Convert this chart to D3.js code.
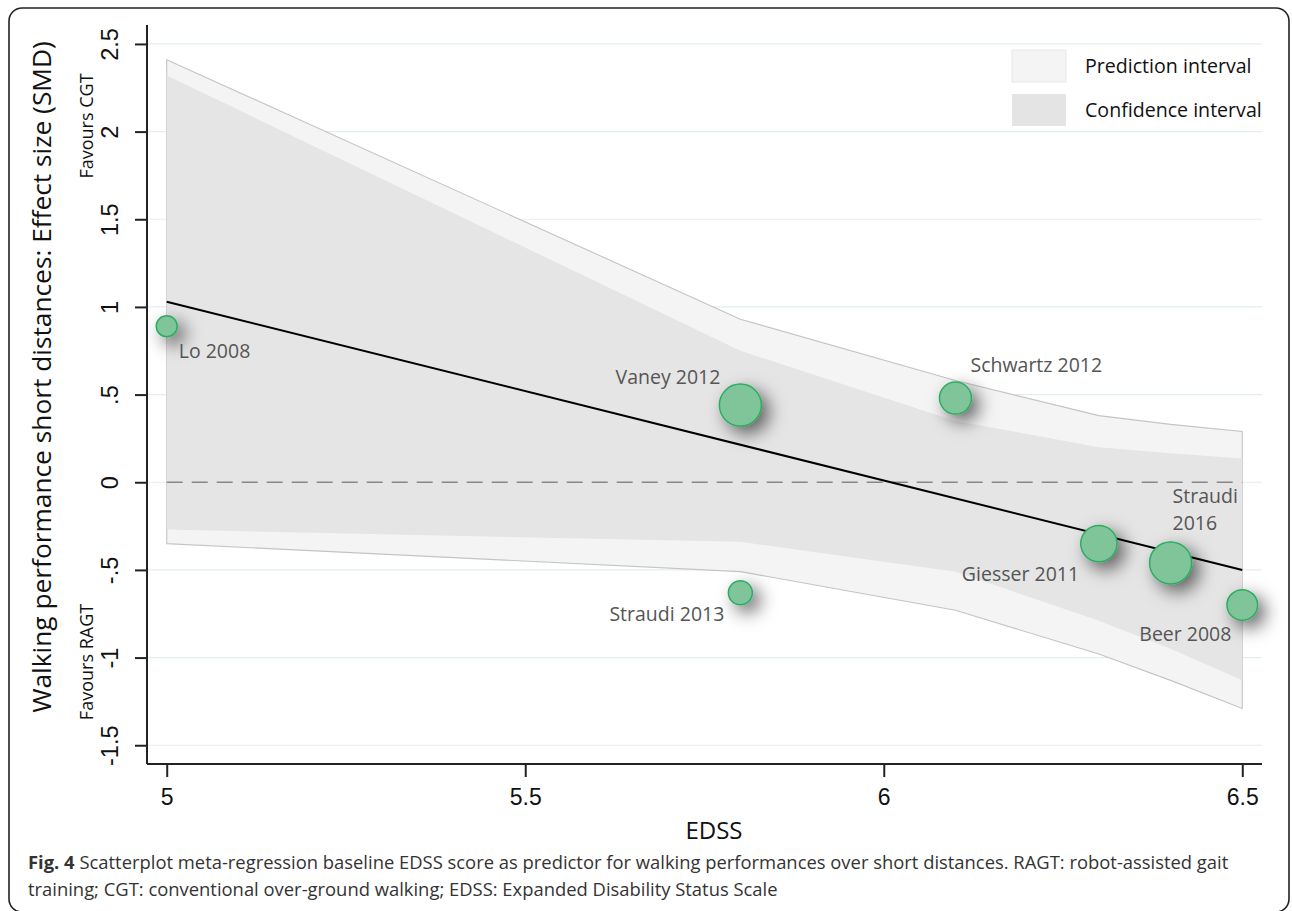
<!DOCTYPE html>
<html>
<head>
<meta charset="utf-8">
<script src="https://cdn.jsdelivr.net/npm/d3@7"></script>
<style>
  html, body { margin: 0; padding: 0; background: #fff; }
  svg { display: block; font-family: "Open Sans", "Noto Sans", sans-serif; }
</style>
</head>
<body>
<svg id="chart" width="1292" height="911"></svg>
<script>
// ---- Data ----
const studies = ["Lo 2008", "Vaney 2012", "Schwartz 2012", "Straudi 2013", "Giesser 2011", "Straudi 2016", "Beer 2008"];
const edss    = [5.0, 5.8, 6.1, 5.8, 6.3, 6.4, 6.5];
const smd     = [0.89, 0.44, 0.48, -0.63, -0.35, -0.46, -0.70];
const weights = [110, 441, 256, 144, 330, 441, 235];

// band vertices
const bandX      = [5.0, 5.8, 6.1, 6.3, 6.4, 6.5];
const predUpper  = [2.41, 0.93, 0.58, 0.38, 0.33, 0.29];
const predLower  = [-0.35, -0.51, -0.73, -0.98, -1.13, -1.29];
const confUpper  = [2.32, 0.75, 0.35, 0.20, 0.165, 0.135];
const confLower  = [-0.27, -0.34, -0.51, -0.79, -0.95, -1.13];

// fitted regression line
const fitX = [5.0, 6.5];
const fitY = [1.03, -0.50];

const xTicks = [5, 5.5, 6, 6.5];
const xTickLabels = ["5", "5.5", "6", "6.5"];
const yTicks = [-1.5, -1, -0.5, 0, 0.5, 1, 1.5, 2, 2.5];
const yTickLabels = ["-1.5", "-1", "-.5", "0", ".5", "1", "1.5", "2", "2.5"];

const legendLabels = ["Prediction interval", "Confidence interval"];
const xTitle = "EDSS";
const yTitle = "Walking performance short distances: Effect size (SMD)";
const favourTop = "Favours CGT";
const favourBottom = "Favours RAGT";
const captionBold = "Fig. 4";
const captionLine1 = " Scatterplot meta-regression baseline EDSS score as predictor for walking performances over short distances. RAGT: robot-assisted gait";
const captionLine2 = "training; CGT: conventional over-ground walking; EDSS: Expanded Disability Status Scale";

// label placement (pixel offsets from point centre) – layout only
const labelLayout = [
  {dx: 12, dy: 32, anchor: "start"},
  {dx: -20, dy: -21, anchor: "end"},
  {dx: 15, dy: -26, anchor: "start"},
  {dx: -16, dy: 28, anchor: "end"},
  {dx: -137, dy: 37, anchor: "start"},
  {dx: 2, dy: -60, anchor: "start", lines: 2},
  {dx: -103, dy: 36, anchor: "start"}
];

// ---- Drawing ----
const svg = d3.select("#chart");
const margin = {left: 147, right: 1262, top: 25, bottom: 764};

const x = d3.scaleLinear().domain([4.9725, 6.5275]).range([margin.left, margin.right]);
const y = d3.scaleLinear().domain([-1.607, 2.608]).range([margin.bottom, margin.top]);
const r = d3.scaleSqrt().domain([0, 441]).range([0, 21]);

const defs = svg.append("defs");
const f = defs.append("filter").attr("id", "shadow")
  .attr("x", "-150%").attr("y", "-150%").attr("width", "400%").attr("height", "400%");
f.append("feDropShadow").attr("dx", 7).attr("dy", 7).attr("stdDeviation", 9)
  .attr("flood-color", "#000").attr("flood-opacity", 0.6);

// outer frame
svg.append("rect").attr("x", 9).attr("y", 8).attr("width", 1280).attr("height", 904)
  .attr("rx", 13).attr("fill", "none").attr("stroke", "#222").attr("stroke-width", 1.6);

// gridlines
svg.append("g").selectAll("line").data(yTicks).join("line")
  .attr("x1", margin.left).attr("x2", margin.right)
  .attr("y1", d => y(d)).attr("y2", d => y(d))
  .attr("stroke", "#e4eeee").attr("stroke-width", 1.2);

// bands
const bandPts = bandX.map((v, i) => ({x: v, pu: predUpper[i], pl: predLower[i], cu: confUpper[i], cl: confLower[i]}));
const areaPred = d3.area().x(d => x(d.x)).y0(d => y(d.pl)).y1(d => y(d.pu));
const areaConf = d3.area().x(d => x(d.x)).y0(d => y(d.cl)).y1(d => y(d.cu));
svg.append("path").datum(bandPts).attr("d", areaPred)
  .attr("fill", "#f4f4f4").attr("stroke", "#c4c4c4").attr("stroke-width", 1.1);
svg.append("path").datum(bandPts).attr("d", areaConf)
  .attr("fill", "#e5e5e5").attr("stroke", "none");

// zero dashed line
svg.append("line").attr("x1", x(5)).attr("x2", x(6.5)).attr("y1", y(0)).attr("y2", y(0))
  .attr("stroke", "#888").attr("stroke-width", 1.7).attr("stroke-dasharray", "16,9");

// fitted line
const fitPts = fitX.map((v, i) => [v, fitY[i]]);
svg.append("path").datum(fitPts)
  .attr("d", d3.line().x(d => x(d[0])).y(d => y(d[1])))
  .attr("stroke", "#000").attr("stroke-width", 2).attr("fill", "none");

// points
const pts = studies.map((s, i) => ({name: s, x: edss[i], y: smd[i], w: weights[i], lay: labelLayout[i]}));
svg.append("g").selectAll("circle").data(pts).join("circle")
  .attr("cx", d => x(d.x)).attr("cy", d => y(d.y)).attr("r", d => r(d.w))
  .attr("fill", "#80c499").attr("stroke", "#2bad62").attr("stroke-width", 1.5)
  .attr("filter", "url(#shadow)");

// point labels
const lab = svg.append("g").attr("font-size", 19.5).attr("fill", "#555");
pts.forEach(d => {
  const t = lab.append("text")
    .attr("x", x(d.x) + d.lay.dx).attr("y", y(d.y) + d.lay.dy)
    .attr("text-anchor", d.lay.anchor);
  if (d.lay.lines === 2) {
    const parts = d.name.split(" ");
    t.append("tspan").attr("x", x(d.x) + d.lay.dx).text(parts[0]);
    t.append("tspan").attr("x", x(d.x) + d.lay.dx).attr("dy", 27).text(parts[1]);
  } else {
    t.text(d.name);
  }
});

// axes
const yAxis = svg.append("g").attr("transform", `translate(${margin.left},0)`)
  .call(d3.axisLeft(y).tickValues(yTicks).tickSize(12).tickFormat(() => ""));
yAxis.select(".domain").attr("d", `M0,${margin.top}V${margin.bottom}`).attr("stroke", "#222").attr("stroke-width", 2);
yAxis.selectAll(".tick line").attr("stroke", "#222").attr("stroke-width", 2);
yAxis.selectAll(".tick").append("text")
  .attr("transform", "translate(-29,0) rotate(-90)")
  .attr("text-anchor", "middle").attr("fill", "#111").attr("font-size", 23.5)
  .text((d, i) => yTickLabels[i]);

const xAxis = svg.append("g").attr("transform", `translate(0,${margin.bottom})`)
  .call(d3.axisBottom(x).tickValues(xTicks).tickSize(13).tickFormat(() => ""));
xAxis.select(".domain").attr("d", `M${margin.left},0H${margin.right}`).attr("stroke", "#222").attr("stroke-width", 2);
xAxis.selectAll(".tick line").attr("stroke", "#222").attr("stroke-width", 2);
xAxis.selectAll(".tick").append("text")
  .attr("y", 41).attr("text-anchor", "middle").attr("fill", "#111").attr("font-size", 23)
  .text((d, i) => xTickLabels[i]);

// axis titles
svg.append("text").attr("x", 714).attr("y", 839).attr("text-anchor", "middle")
  .attr("font-size", 24).attr("fill", "#111").text(xTitle);
svg.append("text").attr("transform", "translate(51,377) rotate(-90)").attr("text-anchor", "middle")
  .attr("font-size", 26.3).attr("fill", "#111").text(yTitle);
svg.append("text").attr("transform", "translate(93,126) rotate(-90)").attr("text-anchor", "middle")
  .attr("font-size", 18).attr("fill", "#111").text(favourTop);
svg.append("text").attr("transform", "translate(93,662) rotate(-90)").attr("text-anchor", "middle")
  .attr("font-size", 18).attr("fill", "#111").text(favourBottom);

// legend
const legFills = ["#f4f4f4", "#e4e4e4"];
const leg = svg.append("g");
legendLabels.forEach((l, i) => {
  leg.append("rect").attr("x", 1012).attr("y", 50 + i * 44).attr("width", 54).attr("height", 32)
    .attr("fill", legFills[i]).attr("stroke", i === 0 ? "#e8e8e8" : "none");
  leg.append("text").attr("x", 1085).attr("y", 73 + i * 44).attr("font-size", 19.6)
    .attr("fill", "#111").text(l);
});

// caption
const cap = svg.append("text").attr("x", 28).attr("y", 869).attr("font-size", 18.4).attr("fill", "#333");
cap.append("tspan").attr("font-weight", "bold").text(captionBold);
cap.append("tspan").text(captionLine1);
svg.append("text").attr("x", 28).attr("y", 896).attr("font-size", 18.4).attr("fill", "#333").text(captionLine2);
</script>
</body>
</html>
